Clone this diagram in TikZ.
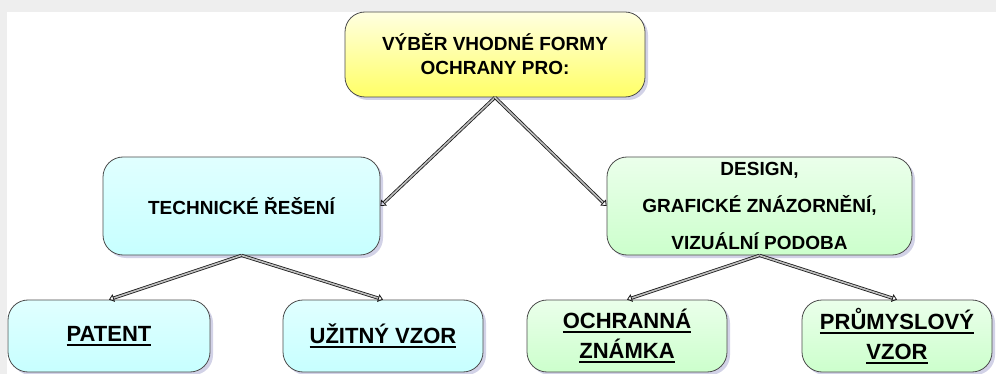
\documentclass[tikz,border=0pt]{standalone}
\usepackage{fontspec}
\setmainfont{Liberation Sans}
\usetikzlibrary{shadows,arrows.meta}

\newcommand{\undl}[1]{\leavevmode\vtop{\hbox{#1}\kern2.5pt\hrule height1.6pt}}

\tikzset{
  box/.style={draw=black!70, line width=0.8pt, rounded corners=20pt,
    align=center, inner sep=0pt,
    font=\bfseries\fontsize{19}{24}\selectfont,
    drop shadow={shadow xshift=3pt, shadow yshift=-3pt,
      fill=blue!30!gray!45, opacity=0.6}},
  tecbox/.style={box, top color=cyan!12, bottom color=cyan!22},
  desbox/.style={box, top color=green!8, bottom color=green!20},
  leaf/.style={font=\bfseries\fontsize{22}{30}\selectfont,
    minimum width=200pt, minimum height=72pt},
  arr/.style={draw=black!90, line width=0.8pt, double=gray!50,
    double distance=1.6pt, -{Triangle[open, length=5pt, width=8pt]}}
}

\begin{document}
\begin{tikzpicture}[x=1pt, y=-1pt]
\useasboundingbox (0,0) rectangle (996,374);
\fill [white] (0,0) rectangle (996,374);
\fill [gray!13] (0,0) rectangle (996,12);
\fill [gray!13] (0,0) rectangle (7,374);

\node [box, top color=yellow!12, bottom color=yellow!60,
  minimum width=300pt, minimum height=85pt] (vyber) at (495,54.5)
  {VÝBĚR VHODNÉ FORMY\\OCHRANY PRO:};

\node [tecbox, minimum width=277pt, minimum height=98pt] (tech) at (241.5,206)
  {TECHNICKÉ ŘEŠENÍ};
\node [desbox, minimum width=305pt, minimum height=98pt,
  font=\bfseries\fontsize{19}{37}\selectfont] (design) at (759.5,206)
  {DESIGN,\\GRAFICKÉ ZNÁZORNĚNÍ,\\VIZUÁLNÍ PODOBA};

\node [tecbox, leaf, minimum width=202pt] (patent) at (109,336) {\undl{PATENT}};
\node [tecbox, leaf] (uzitny) at (383,336) {\undl{UŽITNÝ VZOR}};
\node [desbox, leaf] (znamka) at (627,336) {\undl{OCHRANNÁ}\\\undl{ZNÁMKA}};
\node [desbox, leaf, minimum width=190pt] (prumysl) at (897,336)
  {\undl{PRŮMYSLOVÝ}\\\undl{VZOR}};

\draw [arr] (vyber.south) -- (tech.east);
\draw [arr] (vyber.south) -- (design.west);
\draw [arr] (tech.south) -- (patent.north);
\draw [arr] (tech.south) -- (uzitny.north);
\draw [arr] (design.south) -- (znamka.north);
\draw [arr] (design.south) -- (prumysl.north);
\end{tikzpicture}
\end{document}
